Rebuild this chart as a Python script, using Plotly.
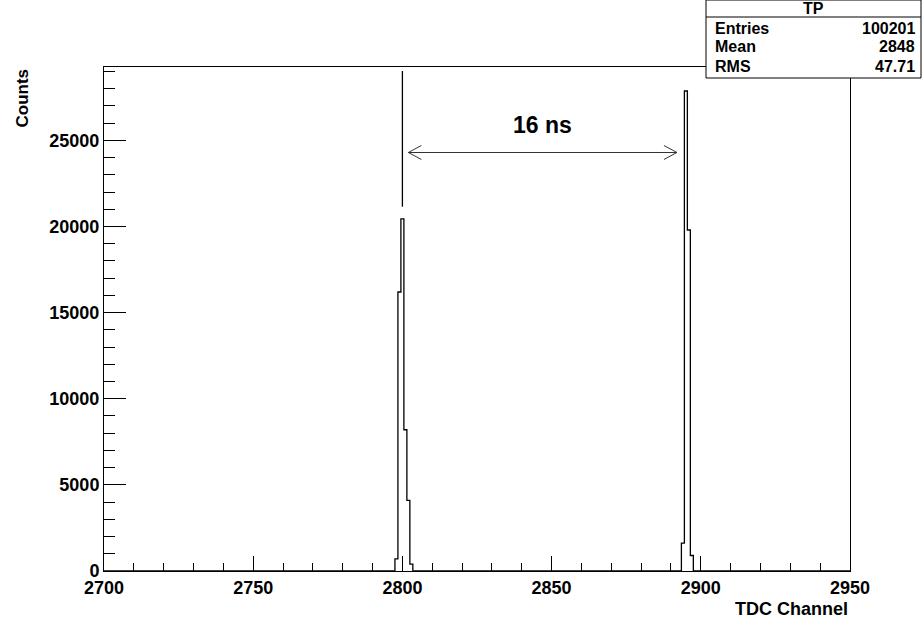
import numpy as np
import plotly.graph_objects as go

# ---- data ----
x_min, x_max = 2700, 2950
left_channels = [2798, 2799, 2800, 2801, 2802, 2803]
left_counts = [700, 16200, 20450, 8200, 4100, 400]
right_channels = [2894, 2895, 2896, 2897]
right_counts = [1620, 27870, 19800, 900]

stats_title = "TP"
stats_labels = ["Entries", "Mean", "RMS"]
stats_values = ["100201", "2848", "47.71"]

x_ticks = [2700, 2750, 2800, 2850, 2900, 2950]
y_ticks = [0, 5000, 10000, 15000, 20000, 25000]

marker_channel = 2800
marker_range = [21150, 29030]
arrow_from, arrow_to, arrow_level = 2802, 2892, 24300
gap_label = "16 ns"

# ---- histogram from data: bin c covers [c-0.5, c+0.5) ----
nb = x_max - x_min
counts = np.zeros(nb)
for c, v in zip(left_channels + right_channels, left_counts + right_counts):
    counts[int(c - x_min)] = v
lo = x_min + np.arange(nb) - 0.5
xs = np.concatenate([[x_min], lo[1:], [x_max]])
ys = np.concatenate([counts, [counts[-1]]])

y_top = 1.05 * max(left_counts + right_counts)

FONT = "Liberation Sans, Arial, sans-serif"

fig = go.Figure()
fig.add_trace(go.Scatter(x=xs, y=ys, mode="lines", line=dict(color="black", width=1.3, shape="hv"),
                         hoverinfo="skip", showlegend=False))

# marker line
fig.add_shape(type="line", x0=marker_channel, x1=marker_channel, y0=marker_range[0], y1=marker_range[1],
              xref="x", yref="y", line=dict(color="black", width=1.3))
# arrow line
fig.add_shape(type="line", x0=arrow_from, x1=arrow_to, y0=arrow_level, y1=arrow_level,
              xref="x", yref="y", line=dict(color="#333333", width=1.2))
# arrow heads (open chevrons)
for xa, sgn in [(arrow_from, 1), (arrow_to, -1)]:
    fig.add_shape(type="path", xref="x", yref="y", xsizemode="pixel", ysizemode="pixel",
                  xanchor=xa, yanchor=arrow_level,
                  path=f"M {sgn*13},7 L 0,0 L {sgn*13},-7",
                  line=dict(color="#333333", width=1))
fig.add_annotation(x=(arrow_from + arrow_to) / 2, y=arrow_level, xref="x", yref="y", yshift=27,
                   text=f"<b>{gap_label}</b>", showarrow=False,
                   font=dict(family=FONT, size=23, color="black"))

# ---- stats box (pixel -> paper) ----
L, R, T, B = 104, 850, 67, 571
def px(x):
    return (x - L) / (R - L)
def py(y):
    return (B - y) / (B - T)

bx0, bx1, by0, by1, bdiv = 706, 921, 0, 78, 17
fig.add_shape(type="rect", xref="paper", yref="paper", x0=px(bx0), x1=px(bx1), y0=py(by1), y1=py(by0),
              line=dict(color="black", width=1), fillcolor="white", layer="above")
fig.add_shape(type="line", xref="paper", yref="paper", x0=px(bx0), x1=px(bx1), y0=py(bdiv), y1=py(bdiv),
              line=dict(color="black", width=1))
fig.add_annotation(xref="paper", yref="paper", x=px((bx0 + bx1) / 2), y=py(9), text=f"<b>{stats_title}</b>",
                   showarrow=False, xanchor="center", yanchor="middle",
                   font=dict(family=FONT, size=16, color="black"))
row_y = [28, 47, 66]
for lab, val, ry in zip(stats_labels, stats_values, row_y):
    fig.add_annotation(xref="paper", yref="paper", x=px(bx0 + 7), y=py(ry), text=f"<b>{lab}</b>",
                       showarrow=False, xanchor="left", yanchor="middle",
                       font=dict(family=FONT, size=16, color="black"))
    fig.add_annotation(xref="paper", yref="paper", x=px(bx1 - 4), y=py(ry), text=f"<b>{val}</b>",
                       showarrow=False, xanchor="right", yanchor="middle",
                       font=dict(family=FONT, size=16, color="black"))

# axis titles
fig.add_annotation(xref="paper", yref="paper", x=1, y=py(609), text="<b>TDC Channel</b>", showarrow=False,
                   xanchor="right", yanchor="middle", font=dict(family=FONT, size=18, color="black"))
fig.add_annotation(xref="paper", yref="paper", x=px(22), y=1, text="<b>Counts</b>", showarrow=False,
                   textangle=-90, xanchor="center", yanchor="top", font=dict(family=FONT, size=17, color="black"))

fig.update_layout(
    width=923, height=628, margin=dict(l=L, r=923 - R, t=T, b=628 - B),
    paper_bgcolor="white", plot_bgcolor="white", showlegend=False,
    font=dict(family=FONT, color="black"),
)
fig.update_xaxes(range=[x_min, x_max], tickvals=x_ticks, ticktext=[f"<b>{t}</b>" for t in x_ticks],
                 ticks="inside", ticklen=15, tickwidth=1, tickcolor="black",
                 minor=dict(dtick=10, tick0=x_min, ticks="inside", ticklen=8, tickcolor="black", showgrid=False),
                 showline=True, mirror=True, linecolor="black", linewidth=1, showgrid=False, zeroline=False,
                 tickfont=dict(family=FONT, size=18, color="black"))
fig.update_yaxes(range=[0, y_top], tickvals=y_ticks, ticktext=[f"<b>{t}</b>" for t in y_ticks],
                 ticks="inside", ticklen=22, tickwidth=1, tickcolor="black",
                 minor=dict(dtick=1000, tick0=0, ticks="inside", ticklen=11, tickcolor="black", showgrid=False),
                 showline=True, mirror=True, linecolor="black", linewidth=1, showgrid=False, zeroline=False,
                 tickfont=dict(family=FONT, size=18, color="black"))

fig.write_html("out.html")
